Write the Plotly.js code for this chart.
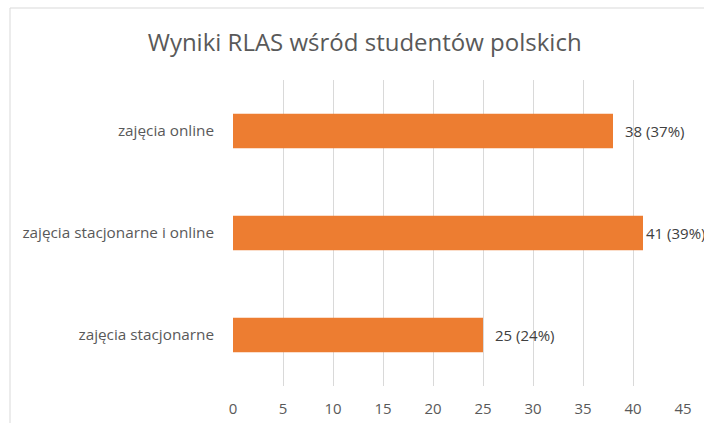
<!DOCTYPE html>
<html>
<head>
<meta charset="utf-8">
<script src="https://cdn.plot.ly/plotly-3.0.1.min.js"></script>
<style>html,body{margin:0;padding:0;background:#fff;}#chart{width:704px;height:423px;}</style>
</head>
<body>
<div id="chart"></div>
<script>
const categories = ["zajęcia stacjonarne", "zajęcia stacjonarne i online", "zajęcia online"];
const values = [25, 41, 38];
const percents = ["24%", "39%", "37%"];
const xTicks = [0, 5, 10, 15, 20, 25, 30, 35, 40, 45];

const labels = values.map((v, i) => v + " (" + percents[i] + ")");
const maxVal = Math.max(...values);

const trace = {
  type: "bar",
  orientation: "h",
  x: values,
  y: categories,
  marker: {color: "#ED7D31"},
  width: 0.34,
  hoverinfo: "none"
};

const annotations = values.map((v, i) => ({
  x: v, y: categories[i], xref: "x", yref: "y",
  text: labels[i], showarrow: false, xanchor: "left", yanchor: "middle",
  xshift: v === maxVal ? 1 : 10,
  font: {family: "Open Sans, sans-serif", size: 15, color: "#404040"}
}));

const layout = {
  width: 704, height: 423,
  margin: {l: 233, r: 21, t: 80, b: 37},
  paper_bgcolor: "#ffffff", plot_bgcolor: "#ffffff",
  showlegend: false,
  title: {
    text: "Wyniki RLAS wśród studentów polskich",
    x: 0.518, xref: "container", xanchor: "center",
    y: 1 - 43/423, yref: "container", yanchor: "middle",
    font: {family: "Open Sans, sans-serif", size: 24, color: "#595959"}
  },
  xaxis: {
    range: [0, 45], tickvals: xTicks, ticktext: xTicks.map(String),
    showgrid: true, gridcolor: "#d9d9d9", gridwidth: 1,
    zeroline: false, showline: false, ticks: "", ticklabelstandoff: 12,
    tickfont: {family: "Open Sans, sans-serif", size: 15, color: "#595959"},
    fixedrange: true
  },
  yaxis: {
    type: "category", categoryorder: "array", categoryarray: categories,
    showgrid: false, zeroline: false, showline: false, ticks: "",
    ticklabelstandoff: 18,
    tickfont: {family: "Open Sans, sans-serif", size: 15.3, color: "#595959"},
    fixedrange: true
  },
  annotations: annotations,
  shapes: [
    {type: "line", xref: "paper", yref: "paper", x0: (10-233)/450, x1: (10-233)/450, y0: (386-8)/306, y1: -0.2, line: {color: "#d9d9d9", width: 1}},
    {type: "line", xref: "paper", yref: "paper", x0: (10-233)/450, x1: 1.2, y0: (386-8)/306, y1: (386-8)/306, line: {color: "#d9d9d9", width: 1}}
  ]
};

Plotly.newPlot("chart", [trace], layout, {displayModeBar: false, staticPlot: true});
</script>
</body>
</html>
